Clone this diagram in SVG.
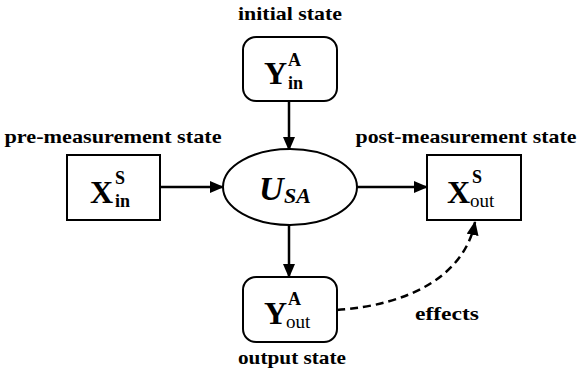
<svg xmlns="http://www.w3.org/2000/svg" width="578" height="374" viewBox="0 0 578 374">
<style>
text{font-family:"Liberation Serif","Times New Roman","DejaVu Serif",serif}
.lbl{font-weight:bold;font-size:19px;fill:#000}
.box{fill:#fff;stroke:#000;stroke-width:2}
.big{font-weight:bold;font-size:32px}
.sm{font-weight:bold;font-size:18px}
.smr{font-size:19px}
.edge{fill:none;stroke:#000;stroke-width:2.5}
</style>
<defs>
<marker id="ah2" markerWidth="14" markerHeight="12" refX="13" refY="6" orient="auto" markerUnits="userSpaceOnUse" viewBox="0 0 14 12">
<path d="M0,0 L14,6 L0,12 Z" fill="#000"/>
</marker>
</defs>
<g id="connectors">
<line class="edge" x1="289" y1="101" x2="289" y2="150" marker-end="url(#ah2)"/>
<line class="edge" x1="160" y1="187" x2="223" y2="187" marker-end="url(#ah2)"/>
<line class="edge" x1="357" y1="187" x2="427" y2="187" marker-end="url(#ah2)"/>
<line class="edge" x1="289" y1="225" x2="289" y2="277" marker-end="url(#ah2)"/>
<path class="edge" d="M337,310 C410,305 465,275 475,222" stroke-dasharray="8,5" marker-end="url(#ah2)"/>
</g>
<g id="initial">
<text class="lbl" x="290" y="20" text-anchor="middle" textLength="104" lengthAdjust="spacingAndGlyphs">initial state</text>
<rect class="box" x="243" y="37" width="94" height="64" rx="13"/>
<text x="264" y="84" class="big">Y</text>
<text x="288" y="66" class="sm">A</text>
<text x="288" y="89" class="sm">in</text>
</g>
<g id="pre">
<text class="lbl" x="113" y="143" text-anchor="middle" textLength="217" lengthAdjust="spacingAndGlyphs">pre-measurement state</text>
<rect class="box" x="67" y="155" width="93" height="65"/>
<text x="90" y="203" class="big">X</text>
<text x="115" y="184" class="sm">S</text>
<text x="115" y="207" class="sm">in</text>
</g>
<g id="usa">
<ellipse class="box" cx="290" cy="187" rx="67" ry="38"/>
<text x="259" y="200" font-style="italic" font-weight="bold" font-size="34">U</text>
<text x="284" y="203" font-style="italic" font-weight="bold" font-size="22">SA</text>
</g>
<g id="post">
<text class="lbl" x="466" y="143" text-anchor="middle" textLength="221" lengthAdjust="spacingAndGlyphs">post-measurement state</text>
<rect class="box" x="427" y="155" width="94" height="65"/>
<text x="447" y="203" class="big">X</text>
<text x="472" y="183" class="sm">S</text>
<text x="470" y="207" class="smr">out</text>
</g>
<g id="output">
<rect class="box" x="243" y="277" width="94" height="65" rx="13"/>
<text x="264" y="324" class="big">Y</text>
<text x="288" y="305" class="sm">A</text>
<text x="286" y="328" class="smr">out</text>
<text class="lbl" x="292" y="364" text-anchor="middle" textLength="108" lengthAdjust="spacingAndGlyphs">output state</text>
</g>
<text class="lbl" x="447" y="320" text-anchor="middle" textLength="64" lengthAdjust="spacingAndGlyphs">effects</text>
</svg>
